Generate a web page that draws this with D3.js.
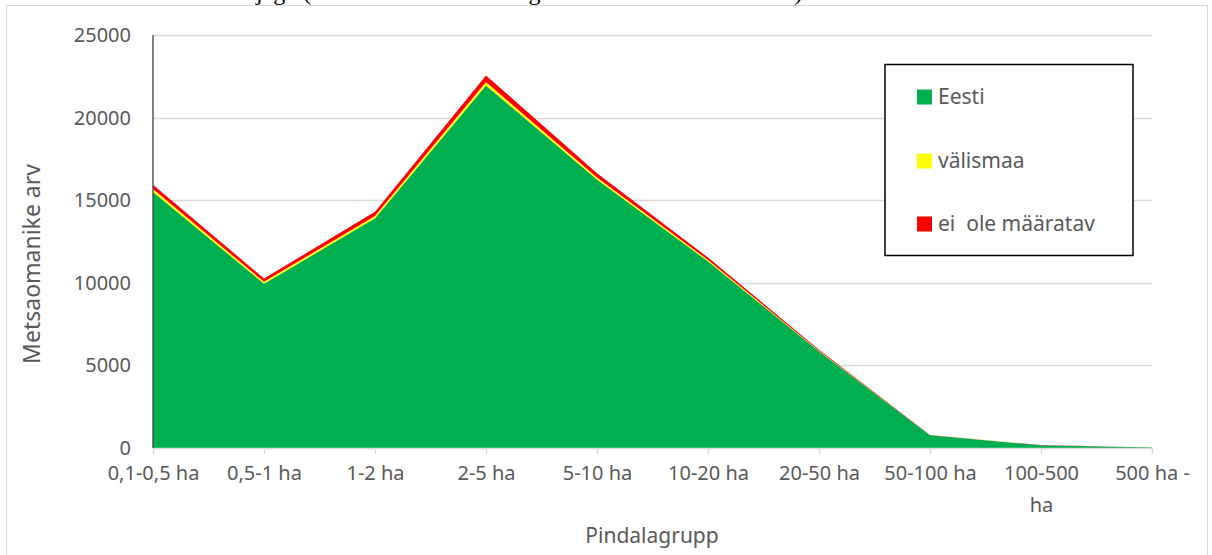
<!DOCTYPE html>
<html>
<head>
<meta charset="utf-8">
<script src="https://cdn.jsdelivr.net/npm/d3@7/dist/d3.min.js"></script>
<style>
  html, body { margin: 0; padding: 0; background: #fff; }
  svg { display: block; }
</style>
</head>
<body>
<svg id="chart" width="1212" height="555"></svg>
<script>
// ---- data ----
const categories = ["0,1-0,5 ha", "0,5-1 ha", "1-2 ha", "2-5 ha", "5-10 ha", "10-20 ha", "20-50 ha", "50-100 ha", "100-500 ha", "500 ha -"];
const tickLabels = ["0,1-0,5 ha", "0,5-1 ha", "1-2 ha", "2-5 ha", "5-10 ha", "10-20 ha", "20-50 ha", "50-100 ha", "100-500\nha", "500 ha -"];
const eesti        = [15500, 9950, 13900, 21950, 16250, 11300, 5850, 770, 170, 30];
const valismaa     = [180, 110, 150, 200, 130, 80, 30, 5, 2, 0];
const eiOleMaarat  = [250, 200, 250, 400, 250, 150, 60, 10, 3, 1];
const seriesNames  = ["Eesti", "välismaa", "ei  ole määratav"];
const seriesColors = ["#00B050", "#FFFF00", "#FF0000"];
const yTicks = [0, 5000, 10000, 15000, 20000, 25000];

// ---- layout ----
const svg = d3.select("#chart");
const font = "'Noto Sans', 'Open Sans', sans-serif";
const textColor = "#595959";

const x = d3.scalePoint().domain(categories).range([153, 1152]);
const y = d3.scaleLinear().domain([0, 25000]).range([448, 35]);

// cut-off caption at the top
const serif = "'Liberation Serif', 'Times New Roman', serif";
svg.append("text").attr("x", 256).attr("y", 0)
  .attr("text-anchor", "end")
  .style("font-family", serif).style("font-size", "24px").attr("fill", "#000")
  .text("Metsaomanike ");
svg.append("text").attr("x", 256).attr("y", 0)
  .style("font-family", serif).style("font-size", "24px").attr("fill", "#000")
  .text("jagu (metsaomanike arvu kogus omanike elukoha alusel)");

// chart border
svg.append("rect").attr("x", 6.5).attr("y", 5.5).attr("width", 1201).attr("height", 560)
  .attr("fill", "none").attr("stroke", "#d9d9d9").attr("stroke-width", 1);

// gridlines
svg.append("g").selectAll("line").data(yTicks.filter(d => d > 0)).join("line")
  .attr("x1", 153).attr("x2", 1152)
  .attr("y1", d => Math.round(y(d)) + 0.5).attr("y2", d => Math.round(y(d)) + 0.5)
  .attr("stroke", "#d9d9d9").attr("stroke-width", 1.3);

// stacked areas
const rows = categories.map((c, i) => ({ cat: c, s0: eesti[i], s1: valismaa[i], s2: eiOleMaarat[i] }));
const stack = d3.stack().keys(["s0", "s1", "s2"]);
const layers = stack(rows);
const area = d3.area()
  .x(d => x(d.data.cat))
  .y0(d => y(d[0]))
  .y1(d => y(d[1]));
svg.append("g").selectAll("path").data(layers).join("path")
  .attr("d", area)
  .attr("fill", (d, i) => seriesColors[i]);

// x axis
const xAxis = svg.append("g").attr("transform", "translate(0,448)")
  .call(d3.axisBottom(x).tickSize(6).tickPadding(12).tickFormat((d, i) => tickLabels[i]));
xAxis.select(".domain").attr("stroke", "#d9d9d9").attr("stroke-width", 1.3);
xAxis.selectAll(".tick line").attr("stroke", "#d9d9d9").attr("stroke-width", 1.3);
xAxis.selectAll(".tick text")
  .style("font-family", font).style("font-size", "20px").attr("fill", textColor)
  .each(function(d, i) {
    const parts = tickLabels[i].split("\n");
    const t = d3.select(this);
    t.text(null);
    parts.forEach((p, k) => {
      t.append("tspan").attr("x", 0).attr("dy", k === 0 ? "0.71em" : "1.6em").text(p);
    });
  });

// y axis line
svg.append("line").attr("x1", 153).attr("x2", 153).attr("y1", y(25000)).attr("y2", 448)
  .attr("stroke", "#404040").attr("stroke-width", 1.3);

// y tick labels
svg.append("g").selectAll("text").data(yTicks).join("text")
  .attr("x", 131).attr("y", d => y(d)).attr("dy", "0.35em")
  .attr("text-anchor", "end")
  .style("font-family", font).style("font-size", "20px").attr("fill", textColor)
  .text(d => d);

// axis titles
svg.append("text").attr("x", 652).attr("y", 543)
  .attr("text-anchor", "middle")
  .style("font-family", font).style("font-size", "21px").attr("fill", textColor)
  .text("Pindalagrupp");
svg.append("text").attr("transform", "translate(40,264) rotate(-90)")
  .attr("text-anchor", "middle")
  .style("font-family", font).style("font-size", "23px").attr("fill", textColor)
  .text("Metsaomanike arv");

// legend
const lg = svg.append("g");
lg.append("rect").attr("x", 885).attr("y", 64.5).attr("width", 248).attr("height", 191)
  .attr("fill", "#fff").attr("stroke", "#000").attr("stroke-width", 1.5);
const legendY = [97, 161, 224];
seriesNames.forEach((n, i) => {
  lg.append("rect").attr("x", 917).attr("y", legendY[i] - 7.5).attr("width", 15).attr("height", 15)
    .attr("fill", seriesColors[i]);
  lg.append("text").attr("x", 938).attr("y", legendY[i]).attr("dy", "0.35em")
    .style("font-family", font).style("font-size", "21px").attr("fill", textColor)
    .style("white-space", "pre").attr("xml:space", "preserve")
    .text(n);
});
</script>
</body>
</html>
